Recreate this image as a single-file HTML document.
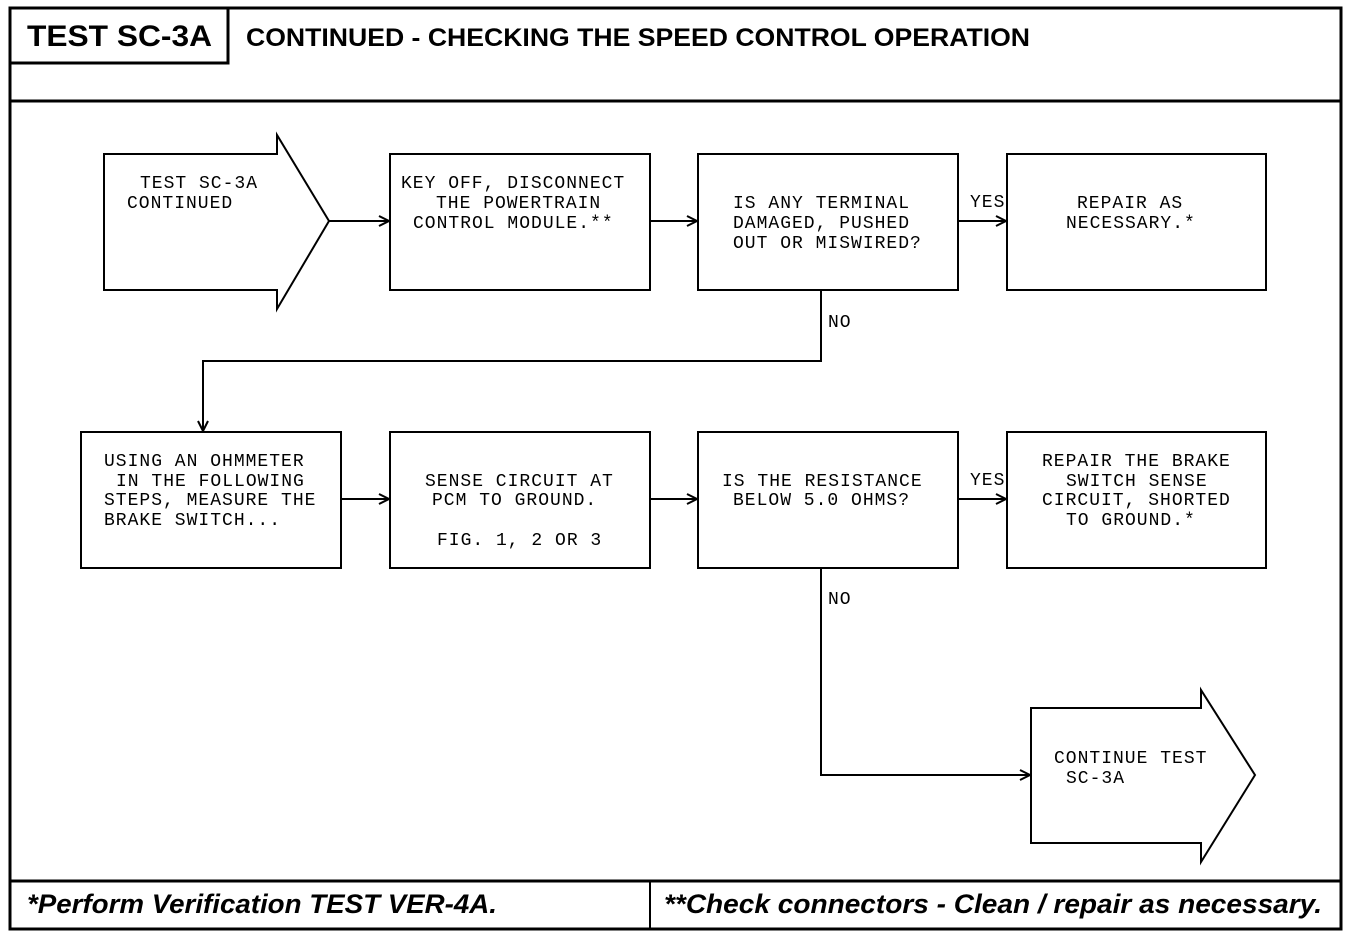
<!DOCTYPE html>
<html><head><meta charset="utf-8"><style>
html,body{margin:0;padding:0;background:#fff;}
svg{display:block}
.m{font-family:"Liberation Mono",monospace;font-size:18px;letter-spacing:1px;fill:#000}
.h{font-family:"Liberation Sans",sans-serif;font-weight:bold;fill:#000}
</style></head><body>
<svg width="1360" height="938" viewBox="0 0 1360 938" xmlns="http://www.w3.org/2000/svg">
<defs><marker id="a" markerWidth="12" markerHeight="12" refX="11" refY="6" orient="auto" markerUnits="userSpaceOnUse"><path d="M1,1 L11,6 L1,11" fill="none" stroke="#000" stroke-width="2"/></marker></defs>
<g fill="none" stroke="#000" stroke-width="2">
<rect x="10" y="8" width="1331" height="921" stroke-width="3"/>
<line x1="10" y1="101" x2="1341" y2="101" stroke-width="3"/>
<path d="M10,63 H228 V8" stroke-width="3"/>
<line x1="10" y1="881" x2="1341" y2="881" stroke-width="3"/>
<line x1="650" y1="881" x2="650" y2="929"/>
<path d="M104,154 H277 V135 L329,221 L277,309 V290 H104 Z"/>
<rect x="390" y="154" width="260" height="136"/>
<rect x="698" y="154" width="260" height="136"/>
<rect x="1007" y="154" width="259" height="136"/>
<rect x="81" y="432" width="260" height="136"/>
<rect x="390" y="432" width="260" height="136"/>
<rect x="698" y="432" width="260" height="136"/>
<rect x="1007" y="432" width="259" height="136"/>
<path d="M1031,708 H1201 V690 L1255,775 L1201,862 V843 H1031 Z"/>
<line x1="329" y1="221" x2="389" y2="221" marker-end="url(#a)"/>
<line x1="650" y1="221" x2="697" y2="221" marker-end="url(#a)"/>
<line x1="958" y1="221" x2="1006" y2="221" marker-end="url(#a)"/>
<path d="M821,290 V361 H203 V431" marker-end="url(#a)"/>
<line x1="341" y1="499" x2="389" y2="499" marker-end="url(#a)"/>
<line x1="650" y1="499" x2="697" y2="499" marker-end="url(#a)"/>
<line x1="958" y1="499" x2="1006" y2="499" marker-end="url(#a)"/>
<path d="M821,568 V775 H1030" marker-end="url(#a)"/>
</g>
<text class="h" x="27" y="46" font-size="30" textLength="185" lengthAdjust="spacingAndGlyphs">TEST SC-3A</text>
<text class="h" x="246" y="46" font-size="25" textLength="784" lengthAdjust="spacingAndGlyphs">CONTINUED - CHECKING THE SPEED CONTROL OPERATION</text>
<text class="h" x="27" y="913" font-size="27" font-style="italic" textLength="470" lengthAdjust="spacingAndGlyphs">*Perform Verification TEST VER-4A.</text>
<text class="h" x="664" y="913" font-size="27" font-style="italic" textLength="658" lengthAdjust="spacingAndGlyphs">**Check connectors - Clean / repair as necessary.</text>
<g class="m">
<text x="140" y="188">TEST SC-3A</text>
<text x="127" y="208">CONTINUED</text>
<text x="401" y="188">KEY OFF, DISCONNECT</text>
<text x="436" y="208">THE POWERTRAIN</text>
<text x="413" y="228">CONTROL MODULE.**</text>
<text x="733" y="208">IS ANY TERMINAL</text>
<text x="733" y="228">DAMAGED, PUSHED</text>
<text x="733" y="248">OUT OR MISWIRED?</text>
<text x="1077" y="208">REPAIR AS</text>
<text x="1066" y="228">NECESSARY.*</text>
<text x="970" y="207">YES</text>
<text x="828" y="327">NO</text>
<text x="104" y="466">USING AN OHMMETER</text>
<text x="116" y="486">IN THE FOLLOWING</text>
<text x="104" y="505">STEPS, MEASURE THE</text>
<text x="104" y="525">BRAKE SWITCH...</text>
<text x="425" y="486">SENSE CIRCUIT AT</text>
<text x="432" y="505">PCM TO GROUND.</text>
<text x="437" y="545">FIG. 1, 2 OR 3</text>
<text x="722" y="486">IS THE RESISTANCE</text>
<text x="733" y="505">BELOW 5.0 OHMS?</text>
<text x="970" y="485">YES</text>
<text x="1042" y="466">REPAIR THE BRAKE</text>
<text x="1066" y="486">SWITCH SENSE</text>
<text x="1042" y="505">CIRCUIT, SHORTED</text>
<text x="1066" y="525">TO GROUND.*</text>
<text x="828" y="604">NO</text>
<text x="1054" y="763">CONTINUE TEST</text>
<text x="1066" y="783">SC-3A</text>
</g>
</svg>
</body></html>
